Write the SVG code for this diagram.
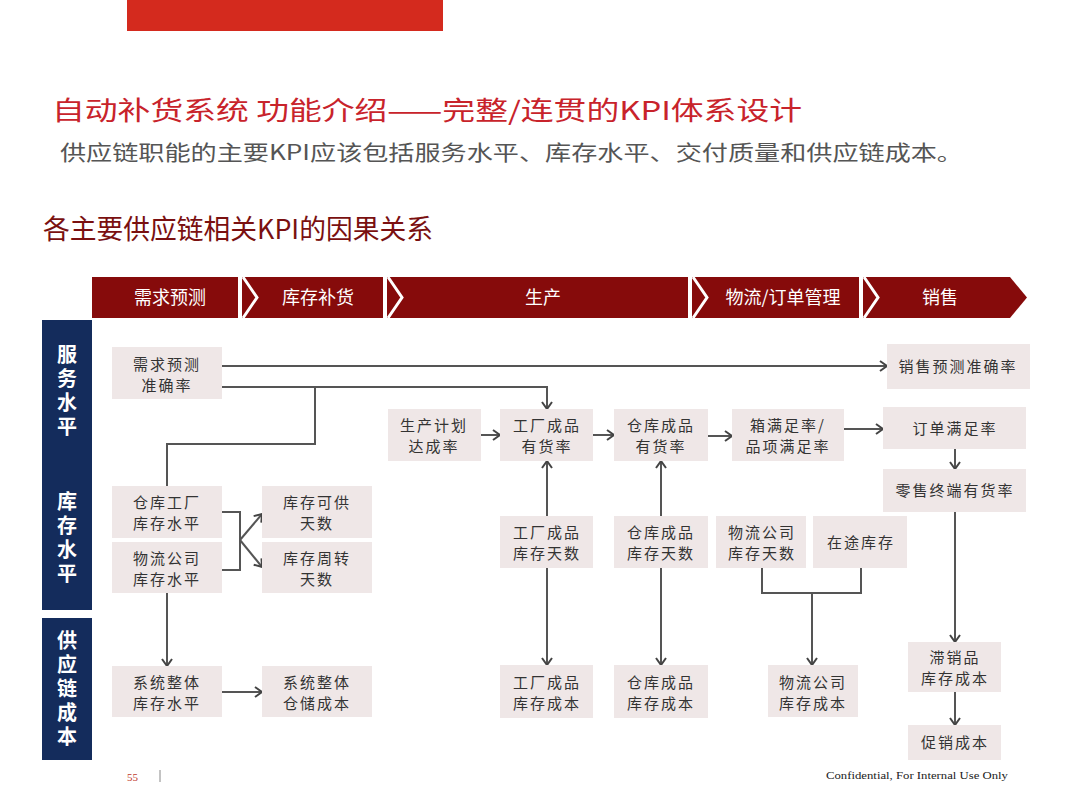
<svg xmlns="http://www.w3.org/2000/svg" width="1080" height="810" viewBox="0 0 1080 810">
<defs>
<style>
.node rect{fill:#EFE7E7;}
.node text{font-family:"Noto Sans CJK SC","Noto Sans",sans-serif;font-size:15px;fill:#333;text-anchor:middle;letter-spacing:2px;}
.hdr{fill:#860B0B;}
.hdrt{font-family:"Noto Sans CJK SC","Noto Sans",sans-serif;font-size:18px;fill:#fff;text-anchor:middle;}
.chev{fill:none;stroke:#fff;stroke-width:3;}
.side{fill:#142C5C;}
.sidet{font-family:"Noto Sans CJK SC","Noto Sans",sans-serif;font-size:20px;font-weight:bold;fill:#fff;writing-mode:vertical-rl;letter-spacing:4px;}
#connectors path{fill:none;stroke:#555;stroke-width:2;}
</style>
<marker id="arr" markerWidth="12" markerHeight="12" refX="9" refY="6" orient="auto" markerUnits="userSpaceOnUse">
<path d="M2,1 L9,6 L2,11" fill="none" stroke="#444" stroke-width="2"/>
</marker>
</defs>
<rect width="1080" height="810" fill="#fff"/>
<rect x="127" y="0" width="316" height="31" fill="#D42A1E"/>
<text x="52" y="120" font-family="'Noto Sans CJK SC',sans-serif" font-size="26" fill="#C8232B" textLength="750" lengthAdjust="spacingAndGlyphs">自动补货系统 功能介绍——完整/连贯的KPI体系设计</text>
<text x="60" y="160" font-family="'Noto Sans CJK SC',sans-serif" font-size="21" fill="#555" textLength="903" lengthAdjust="spacingAndGlyphs">供应链职能的主要KPI应该包括服务水平、库存水平、交付质量和供应链成本。</text>
<text x="43" y="239" font-family="'Noto Sans CJK SC',sans-serif" font-size="27" fill="#7A1010" textLength="390" lengthAdjust="spacingAndGlyphs">各主要供应链相关KPI的因果关系</text>

<g id="header">
<rect class="hdr" x="92" y="277" width="146" height="41"/>
<rect class="hdr" x="242" y="277" width="141" height="41"/>
<rect class="hdr" x="387" y="277" width="301" height="41"/>
<rect class="hdr" x="692" y="277" width="167" height="41"/>
<polygon class="hdr" points="863,277 1010,277 1027,297.5 1010,318 863,318"/>
<polyline class="chev" points="243,277 257,297.5 243,318"/>
<polyline class="chev" points="388,277 402,297.5 388,318"/>
<polyline class="chev" points="693,277 707,297.5 693,318"/>
<polyline class="chev" points="864,277 878,297.5 864,318"/>
<text class="hdrt" x="170" y="304">需求预测</text>
<text class="hdrt" x="318" y="304">库存补货</text>
<text class="hdrt" x="543" y="304">生产</text>
<text class="hdrt" x="783" y="304">物流/订单管理</text>
<text class="hdrt" x="940" y="304">销售</text>
</g>

<g id="side-service"><rect class="side" x="42" y="320" width="50" height="290"/>
<text class="sidet" x="67" y="344">服务水平</text></g>
<g id="side-inventory">
<text class="sidet" x="67" y="491">库存水平</text></g>
<g id="side-cost"><rect class="side" x="42" y="618" width="50" height="142"/>
<text class="sidet" x="67" y="630">供应链成本</text></g>

<g id="connectors">
<path d="M222,366 H887" marker-end="url(#arr)"/>
<path d="M222,387 H547 V409" marker-end="url(#arr)"/>
<path d="M315,387 V444 H167 V486"/>
<path d="M222,512 H240 V570 H222"/>
<path d="M240,540 L262,514" marker-end="url(#arr)"/>
<path d="M240,540 L262,567" marker-end="url(#arr)"/>
<path d="M167,593 V666" marker-end="url(#arr)"/>
<path d="M222,692 H262" marker-end="url(#arr)"/>
<path d="M481,435 H500" marker-end="url(#arr)"/>
<path d="M593,435 H614" marker-end="url(#arr)"/>
<path d="M708,436 H732" marker-end="url(#arr)"/>
<path d="M844,429 H883" marker-end="url(#arr)"/>
<path d="M547,516 V461" marker-end="url(#arr)"/>
<path d="M547,568 V665" marker-end="url(#arr)"/>
<path d="M661,516 V461" marker-end="url(#arr)"/>
<path d="M661,568 V665" marker-end="url(#arr)"/>
<path d="M955,449 V469" marker-end="url(#arr)"/>
<path d="M955,512 V642" marker-end="url(#arr)"/>
<path d="M955,692 V725" marker-end="url(#arr)"/>
<path d="M762,568 V593 H861 V568"/>
<path d="M812,593 V665" marker-end="url(#arr)"/>
</g>

<g id="n1" class="node"><rect x="112" y="347" width="110" height="52"/><text x="167" y="370">需求预测</text><text x="167" y="391">准确率</text></g>
<g id="n2" class="node"><rect x="887" y="344" width="143" height="45"/><text x="958" y="372">销售预测准确率</text></g>
<g id="n3" class="node"><rect x="388" y="409" width="93" height="52"/><text x="434" y="431">生产计划</text><text x="434" y="452">达成率</text></g>
<g id="n4" class="node"><rect x="500" y="409" width="93" height="52"/><text x="547" y="431">工厂成品</text><text x="547" y="452">有货率</text></g>
<g id="n5" class="node"><rect x="614" y="409" width="94" height="52"/><text x="661" y="431">仓库成品</text><text x="661" y="452">有货率</text></g>
<g id="n6" class="node"><rect x="732" y="409" width="112" height="52"/><text x="788" y="431">箱满足率/</text><text x="788" y="452">品项满足率</text></g>
<g id="n7" class="node"><rect x="883" y="407" width="143" height="42"/><text x="955" y="434">订单满足率</text></g>
<g id="n8" class="node"><rect x="883" y="469" width="143" height="43"/><text x="955" y="496">零售终端有货率</text></g>
<g id="n9" class="node"><rect x="112" y="486" width="110" height="52"/><text x="167" y="508">仓库工厂</text><text x="167" y="529">库存水平</text></g>
<g id="n10" class="node"><rect x="112" y="542" width="110" height="51"/><text x="167" y="564">物流公司</text><text x="167" y="585">库存水平</text></g>
<g id="n11" class="node"><rect x="262" y="486" width="110" height="52"/><text x="317" y="508">库存可供</text><text x="317" y="529">天数</text></g>
<g id="n12" class="node"><rect x="262" y="542" width="110" height="51"/><text x="317" y="564">库存周转</text><text x="317" y="585">天数</text></g>
<g id="n13" class="node"><rect x="500" y="516" width="93" height="52"/><text x="547" y="538">工厂成品</text><text x="547" y="559">库存天数</text></g>
<g id="n14" class="node"><rect x="614" y="516" width="94" height="52"/><text x="661" y="538">仓库成品</text><text x="661" y="559">库存天数</text></g>
<g id="n15" class="node"><rect x="716" y="516" width="90" height="52"/><text x="762" y="538">物流公司</text><text x="762" y="559">库存天数</text></g>
<g id="n16" class="node"><rect x="813" y="516" width="94" height="52"/><text x="861" y="548">在途库存</text></g>
<g id="n17" class="node"><rect x="112" y="666" width="110" height="51"/><text x="167" y="688">系统整体</text><text x="167" y="709">库存水平</text></g>
<g id="n18" class="node"><rect x="262" y="666" width="110" height="51"/><text x="317" y="688">系统整体</text><text x="317" y="709">仓储成本</text></g>
<g id="n19" class="node"><rect x="500" y="665" width="93" height="53"/><text x="547" y="688">工厂成品</text><text x="547" y="709">库存成本</text></g>
<g id="n20" class="node"><rect x="614" y="665" width="94" height="53"/><text x="661" y="688">仓库成品</text><text x="661" y="709">库存成本</text></g>
<g id="n21" class="node"><rect x="768" y="665" width="90" height="52"/><text x="813" y="688">物流公司</text><text x="813" y="709">库存成本</text></g>
<g id="n22" class="node"><rect x="908" y="642" width="93" height="50"/><text x="955" y="663">滞销品</text><text x="955" y="684">库存成本</text></g>
<g id="n23" class="node"><rect x="908" y="725" width="93" height="35"/><text x="955" y="748">促销成本</text></g>

<text x="127" y="781" font-family="'Liberation Serif',serif" font-size="11" fill="#C0392B">55</text>
<line x1="160" y1="770" x2="160" y2="782" stroke="#888" stroke-width="1"/>
<text x="826" y="779" font-family="'Liberation Serif',serif" font-size="11" fill="#222" textLength="182" lengthAdjust="spacingAndGlyphs">Confidential, For Internal Use Only</text>
</svg>
